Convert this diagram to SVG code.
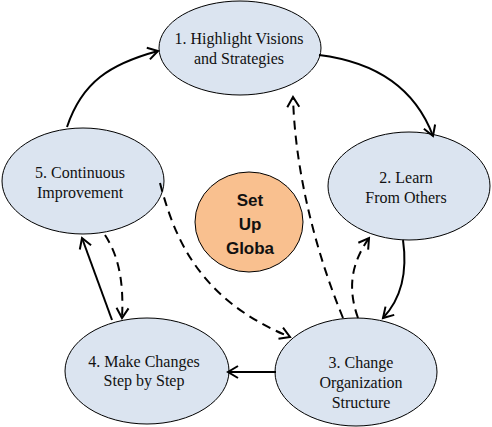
<svg xmlns="http://www.w3.org/2000/svg" width="492" height="427" viewBox="0 0 492 427">
<style>
.node{fill:#dbe4f0;stroke:#000;stroke-width:1}
.hub{fill:#f9c08f;stroke:#000;stroke-width:1}
.lbl{font-family:"Liberation Serif","Times New Roman",serif;font-size:16px;fill:#111;text-anchor:middle}
.hubl{font-family:"Liberation Sans",Arial,sans-serif;font-size:17px;font-weight:bold;fill:#111;text-anchor:middle}
.c{fill:none;stroke:#000;stroke-width:2;marker-end:url(#arr)}
.d{stroke-dasharray:9,6}
</style>
<defs>
<marker id="arr" markerUnits="userSpaceOnUse" markerWidth="14" markerHeight="14" refX="11" refY="6" orient="auto" overflow="visible">
<path d="M1,0 L11,6 L1,12" fill="none" stroke="#000" stroke-width="2"/>
</marker>
</defs>
<g id="n1"><ellipse class="node" cx="240" cy="48" rx="81" ry="47"/>
<text class="lbl" x="239" y="44">1. Highlight Visions</text>
<text class="lbl" x="239" y="64">and Strategies</text></g>
<g id="n2"><ellipse class="node" cx="409" cy="186" rx="81" ry="54"/>
<text class="lbl" x="406" y="183">2. Learn</text>
<text class="lbl" x="406" y="203">From Others</text></g>
<g id="n3"><ellipse class="node" cx="356" cy="372" rx="81" ry="54"/>
<text class="lbl" x="361" y="368">3. Change</text>
<text class="lbl" x="361" y="388">Organization</text>
<text class="lbl" x="361" y="408">Structure</text></g>
<g id="n4"><ellipse class="node" cx="147" cy="371" rx="82" ry="53"/>
<text class="lbl" x="144" y="367">4. Make Changes</text>
<text class="lbl" x="144" y="386">Step by Step</text></g>
<g id="n5"><ellipse class="node" cx="83" cy="181" rx="81" ry="53"/>
<text class="lbl" x="80" y="178">5. Continuous</text>
<text class="lbl" x="80" y="198">Improvement</text></g>
<g id="hub"><ellipse class="hub" cx="249" cy="222" rx="54" ry="50"/>
<text class="hubl" x="250" y="206">Set</text>
<text class="hubl" x="250" y="230">Up</text>
<text class="hubl" x="250" y="254">Globa</text></g>
<g id="connectors">
<path class="c" d="M67,127 C82,82 110,64 158,51"/>
<path class="c" d="M319,55 C375,62 415,88 433,136"/>
<path class="c" d="M403,240 C408,275 400,300 383,318"/>
<path class="c d" d="M358,318 C348,290 350,265 369,238"/>
<path class="c d" d="M343,318 C315,250 295,170 293,97"/>
<path class="c" d="M276,372 L228,372"/>
<path class="c d" d="M160,183 C175,240 200,300 290,337"/>
<path class="c" d="M112,320 L82,238"/>
<path class="c d" d="M105,235 C118,255 124,280 122,318"/>
</g>
</svg>
